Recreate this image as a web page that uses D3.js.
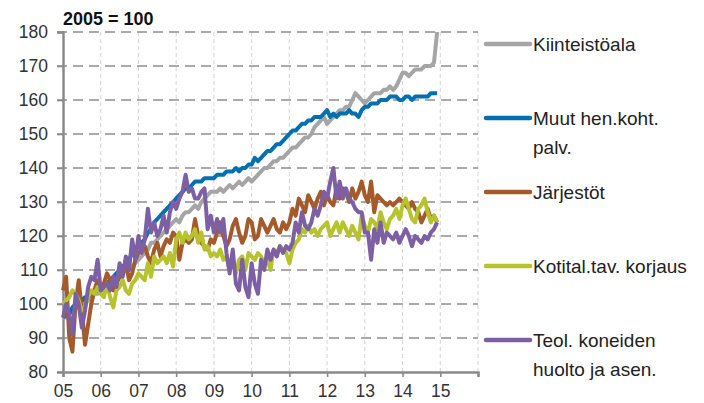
<!DOCTYPE html>
<html>
<head>
<meta charset="utf-8">
<script src="https://cdn.jsdelivr.net/npm/d3@7"></script>
<style>
  body { margin: 0; background: #fff; }
  svg { display: block; font-family: "Liberation Sans", Arial, sans-serif; }
</style>
</head>
<body>
<div id="container"></div>
<script>
// chart data, monthly index numbers 2005 = 100 (Jan 2005 .. Dec 2014)
let startYear = 2005;
let yearTicks = [2005, 2006, 2007, 2008, 2009, 2010, 2011, 2012, 2013, 2014, 2015];
let yTicks = [80, 90, 100, 110, 120, 130, 140, 150, 160, 170, 180];

let seriesNames = ["Kiinteistöala", "Muut hen.koht. palv.", "Järjestöt", "Kotital.tav. korjaus", "Teol. koneiden huolto ja asen."];
let legendLines = [["Kiinteistöala"], ["Muut hen.koht.", "palv."], ["Järjestöt"], ["Kotital.tav. korjaus"], ["Teol. koneiden", "huolto ja asen."]];
let seriesColors = ["#a5a5a5", "#0070ae", "#a55a2b", "#b7c32c", "#7d60a4"];

let kiinteisto = [
  96, 96, 97, 98, 99, 99, 100, 101, 101, 102, 103, 103,
  104, 104, 105, 106, 107, 107, 108, 109, 110, 110, 111, 112,
  113, 114, 115, 116, 118, 118, 119, 120, 121, 122, 123, 124,
  125, 124, 126, 127, 127, 128, 129, 128, 130, 131, 132, 133,
  133, 133, 134, 133, 134, 135, 134, 135, 136, 135, 136, 137,
  136, 137, 138, 139, 140, 140, 141, 142, 142, 143, 143, 144,
  145, 146, 146, 147, 148, 149, 149, 150, 152, 153, 154, 155,
  153, 154, 155, 156, 157, 157, 158, 158, 160, 162, 161, 160,
  159, 160, 161, 162, 162, 162, 163, 163, 164, 163, 164, 166,
  168, 168, 167, 168, 169, 169, 169, 170, 170, 170, 171, 180
];
let muutPalv = [
  96, 97, 97, 99, 100, 100, 101, 102, 102, 103, 104, 104,
  105, 106, 106, 107, 108, 109, 110, 111, 112, 113, 115, 116,
  117, 118, 119, 121, 122, 124, 125, 126, 127, 128, 129, 130,
  131, 132, 133, 134, 134, 135, 136, 136, 136, 137, 137, 137,
  137, 138, 138, 138, 139, 139, 139, 140, 139, 140, 140, 141,
  141, 143, 142, 143, 144, 145, 145, 146, 147, 147, 148, 149,
  150, 151, 151, 152, 153, 153, 154, 154, 155, 155, 155, 156,
  157, 155, 156, 155, 156, 156, 156, 157, 156, 156, 155, 157,
  158, 158, 159, 159, 159, 160, 160, 160, 161, 161, 161, 160,
  160, 161, 161, 160, 161, 161, 161, 161, 161, 162, 162, 162
];
let jarjestot = [
  104, 108, 90, 86, 100, 107, 98, 88, 94, 100, 104, 107,
  104, 106, 109, 107, 104, 106, 108, 110, 112, 107, 109, 113,
  115, 116, 117, 114, 112, 116, 118, 114, 117, 119, 118, 121,
  120, 113, 118, 119, 118, 119, 125, 120, 118, 117, 116, 119,
  118, 121, 124, 120, 117, 119, 123, 125, 121, 118, 120, 125,
  124, 119, 120, 125, 123, 121, 123, 125, 122, 121, 124, 122,
  124, 128, 126, 131, 129, 127, 132, 130, 128, 131, 133, 129,
  132, 130, 129, 134, 131, 134, 133, 130, 134, 131, 133, 136,
  132, 130, 136, 127, 132, 131, 130, 129, 130, 129, 130, 131,
  130, 129, 128, 130, 128, 127, 124, 126, 128, 125, 126, 124
];
let kotitalKorjaus = [
  100, 101, 102, 104, 103, 101, 98, 99, 102, 104, 103, 105,
  103, 102, 106, 102, 99, 104, 105, 107, 104, 103, 106, 107,
  109, 108, 107, 112, 108, 114, 112, 113, 114, 112, 115, 111,
  119, 121, 118, 121, 119, 120, 122, 118, 121, 116, 117, 114,
  115, 114, 116, 113, 114, 110, 112, 109, 113, 114, 110, 115,
  114, 113, 115, 114, 112, 113, 110, 116, 115, 117, 116, 115,
  112, 116, 118, 119, 122, 121, 123, 121, 122, 120, 122, 123,
  124, 120, 122, 124, 121, 124, 122, 120, 123, 121, 119, 126,
  123, 121, 125, 124, 122, 127, 124, 122, 125, 126, 128, 125,
  129, 131, 128, 125, 124, 128, 129, 131, 127, 124, 126, 124
];
let teolKoneet = [
  96, 100, 97, 91, 103, 100, 93, 98, 105, 108, 107, 113,
  104, 105, 106, 104, 108, 105, 112, 108, 114, 110, 119, 113,
  120, 115, 119, 128, 121, 124, 120, 122, 126, 121, 127, 130,
  128, 131, 133, 138, 133, 134, 131, 131, 133, 134, 122, 126,
  121, 125, 121, 125, 115, 109, 116, 106, 104, 113, 105, 102,
  112, 106, 103, 113, 110, 116, 113, 116, 114, 117, 115, 117,
  116, 118, 124, 121, 127, 123, 122, 124, 128, 126, 129, 133,
  131, 136, 140, 131, 136, 131, 134, 131, 130, 128, 127, 127,
  121, 121, 113, 122, 118, 124, 118, 121, 120, 119, 121, 118,
  120, 122, 120, 117, 120, 119, 118, 120, 119, 121, 122, 124
];
let allSeries = [kiinteisto, muutPalv, jarjestot, kotitalKorjaus, teolKoneet];

let w = 704;
let h = 403;

let viz = d3.select("#container")
  .append("svg")
    .attr("width", w)
    .attr("height", h)
;

let xScale = d3.scaleLinear().domain([2005, 2016]).range([63, 478]);
let yScale = d3.scaleLinear().domain([80, 180]).range([372, 32]);

// vertical light grid
viz.append("g")
  .selectAll("line")
  .data(d3.range(2006, 2017))
  .enter()
  .append("line")
    .attr("x1", d => xScale(d))
    .attr("x2", d => xScale(d))
    .attr("y1", yScale(180))
    .attr("y2", yScale(80))
    .attr("stroke", "#d4d4d4")
    .attr("stroke-width", 1)
    .attr("stroke-dasharray", "4,3")
;

// horizontal dashed grid
viz.append("g")
  .selectAll("line")
  .data(yTicks.slice(1))
  .enter()
  .append("line")
    .attr("x1", 57)
    .attr("x2", 478)
    .attr("y1", d => yScale(d))
    .attr("y2", d => yScale(d))
    .attr("stroke", "#8f8f8f")
    .attr("stroke-width", 1.6)
    .attr("stroke-dasharray", "10,6")
;

// y axis
let yAxis = d3.axisLeft(yScale).tickValues(yTicks).tickSize(6).tickPadding(9);
let yAxisGroup = viz.append("g").attr("transform", "translate(63,0)").call(yAxis);
yAxisGroup.select(".domain").attr("stroke", "#8a8a8a").attr("stroke-width", 2.5);
yAxisGroup.selectAll("line").attr("stroke", "#8a8a8a").attr("stroke-width", 1.6);
yAxisGroup.selectAll("text").attr("font-size", 17.5).attr("fill", "#333").attr("font-family", "Liberation Sans, Arial, sans-serif");

// x axis
let xAxis = d3.axisBottom(xScale)
  .tickValues(d3.range(2005, 2017))
  .tickSize(5)
  .tickPadding(8)
  .tickFormat(d => d <= 2015 ? String(d).slice(2) : "");
let xAxisGroup = viz.append("g").attr("transform", "translate(0,372)").call(xAxis);
xAxisGroup.select(".domain").attr("stroke", "#8a8a8a").attr("stroke-width", 2.5);
xAxisGroup.selectAll("line").attr("stroke", "#8a8a8a").attr("stroke-width", 1.6);
xAxisGroup.selectAll("text").attr("font-size", 17.5).attr("fill", "#333").attr("font-family", "Liberation Sans, Arial, sans-serif");

// unit title
viz.append("text")
  .attr("x", 63)
  .attr("y", 25)
  .attr("font-size", 18)
  .attr("font-weight", "bold")
  .attr("fill", "#111")
  .text("2005 = 100");

// lines
let lineMaker = d3.line()
  .x((d, i) => xScale(startYear + i / 12))
  .y(d => yScale(d));

viz.append("g")
  .selectAll("path")
  .data(allSeries)
  .enter()
  .append("path")
    .attr("d", d => lineMaker(d))
    .attr("fill", "none")
    .attr("stroke", (d, i) => seriesColors[i])
    .attr("stroke-width", 4)
    .attr("stroke-linejoin", "round")
;

// legend
let legendY = [44, 118, 192, 266, 340];
let legendGroups = viz.append("g")
  .selectAll("g")
  .data(seriesNames)
  .enter()
  .append("g")
    .attr("transform", (d, i) => "translate(0," + legendY[i] + ")")
;
legendGroups.append("line")
  .attr("x1", 486)
  .attr("x2", 530)
  .attr("stroke", (d, i) => seriesColors[i])
  .attr("stroke-width", 4.5)
  .attr("stroke-linecap", "round");
legendGroups.each(function(d, i){
  let t = d3.select(this).append("text")
    .attr("x", 533)
    .attr("y", 7)
    .attr("font-size", 19)
    .attr("fill", "#222");
  legendLines[i].forEach(function(s, k){
    t.append("tspan").attr("x", 533).attr("dy", k == 0 ? 0 : 29).text(s);
  });
});
</script>
</body>
</html>
